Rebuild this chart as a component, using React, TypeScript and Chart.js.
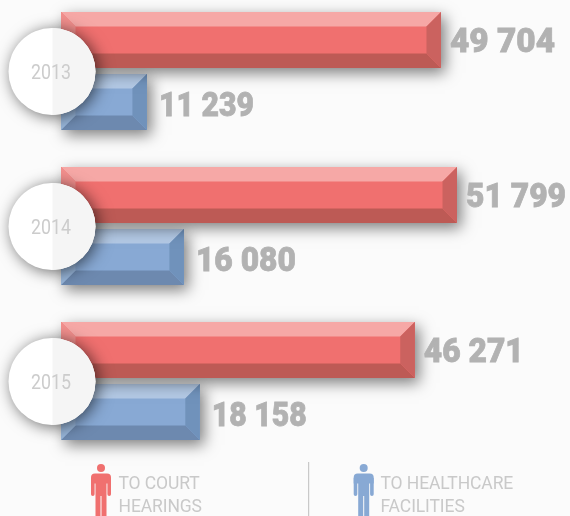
import React, { useEffect, useRef } from "react";
import { Chart, registerables } from "chart.js";

Chart.register(...registerables);

const years = ["2013", "2014", "2015"];
const courtHearings = [49704, 51799, 46271];
const healthcareFacilities = [11239, 16080, 18158];
const legendCourt = ["TO COURT", "HEARINGS"];
const legendHealth = ["TO HEALTHCARE", "FACILITIES"];

const RED = { mid: "#f0706f", top: "#f6a8a6", bottom: "#bd5a55", right: "#cb625f", left: "#f28f8d" };
const BLUE = { mid: "#88a9d4", top: "#b3c9e5", bottom: "#6d89af", right: "#7092bb", left: "#98b6da" };
const BEVEL = 14.5;
const TEXT_GREY = "#b2b2b2";
const LIGHT_GREY = "#c9c9c9";
const CANVAS_SHIFT = 7;

const fmt = (v: number) => {
  const s = String(v);
  return s.slice(0, -3) + " " + s.slice(-3);
};

// The reference's face has a narrow "1"; fit Roboto's tabular digits to that width.
const fitWidth = (t: string) =>
  [...t].reduce((w, ch) => w + (ch === "1" ? 14 : ch === " " ? 10 : 19), 0);

function poly(ctx: CanvasRenderingContext2D, pts: number[][], color: string) {
  ctx.fillStyle = color;
  ctx.beginPath();
  pts.forEach((p, i) => (i ? ctx.lineTo(p[0], p[1]) : ctx.moveTo(p[0], p[1])));
  ctx.closePath();
  ctx.fill();
}

function drawBar(ctx: CanvasRenderingContext2D, el: any, c: typeof RED) {
  const x0 = el.base, x1 = el.x, y0 = el.y - el.height / 2, y1 = el.y + el.height / 2;
  const b = BEVEL;
  ctx.save();
  ctx.shadowColor = "rgba(0,0,0,0.5)";
  ctx.shadowBlur = 14;
  ctx.shadowOffsetX = 4;
  ctx.shadowOffsetY = 5;
  ctx.fillStyle = c.mid;
  ctx.fillRect(x0, y0, x1 - x0, y1 - y0);
  ctx.restore();
  poly(ctx, [[x0, y0], [x1, y0], [x1 - b, y0 + b], [x0 + b, y0 + b]], c.top);
  poly(ctx, [[x0, y1], [x1, y1], [x1 - b, y1 - b], [x0 + b, y1 - b]], c.bottom);
  poly(ctx, [[x1, y0], [x1, y1], [x1 - b, y1 - b], [x1 - b, y0 + b]], c.right);
  poly(ctx, [[x0, y0], [x0, y1], [x0 + b, y1 - b], [x0 + b, y0 + b]], c.left);
}

function drawPerson(ctx: CanvasRenderingContext2D, cx: number, color: string) {
  ctx.fillStyle = color;
  ctx.beginPath();
  ctx.arc(cx, 468, 4, 0, Math.PI * 2);
  ctx.fill();
  ctx.beginPath();
  ctx.roundRect(cx - 10, 473.5, 20, 10, [4, 4, 0, 0]);
  ctx.fill();
  ctx.beginPath();
  ctx.roundRect(cx - 10, 478, 3.6, 18, [0, 0, 1.8, 1.8]);
  ctx.roundRect(cx + 6.4, 478, 3.6, 18, [0, 0, 1.8, 1.8]);
  ctx.fill();
  ctx.fillRect(cx - 5.5, 478, 11, 38);
  ctx.fillStyle = "#fbfbfb";
  ctx.fillRect(cx - 0.5, 496, 1, 20);
}

function drawValue(ctx: CanvasRenderingContext2D, v: number, x: number, y: number) {
  const t = fmt(v);
  const w = fitWidth(t);
  ctx.fillText(t, x, y, w);
  ctx.strokeText(t, x, y, w);
}

const decorPlugin = {
  id: "decor",
  afterDatasetsDraw(chart: any) {
    const ctx: CanvasRenderingContext2D = chart.ctx;
    const red = chart.getDatasetMeta(0).data;
    const blue = chart.getDatasetMeta(1).data;
    years.forEach((_, i) => {
      drawBar(ctx, blue[i], BLUE);
      drawBar(ctx, red[i], RED);
    });
    ctx.save();
    ctx.textAlign = "left";
    ctx.textBaseline = "alphabetic";
    ctx.fillStyle = TEXT_GREY;
    ctx.strokeStyle = TEXT_GREY;
    ctx.lineWidth = 0.8;
    ctx.font = "900 34px Roboto";
    years.forEach((_, i) => {
      drawValue(ctx, courtHearings[i], red[i].x + 9, red[i].y + 12);
      drawValue(ctx, healthcareFacilities[i], blue[i].x + 12, blue[i].y + 14);
    });
    ctx.restore();

    years.forEach((y, i) => {
      const cx = 52;
      const cy = (red[i].y + blue[i].y) / 2 + 0.5;
      const r = 43.5;
      ctx.save();
      ctx.shadowColor = "rgba(0,0,0,0.6)";
      ctx.shadowBlur = 16;
      ctx.shadowOffsetX = 3;
      ctx.shadowOffsetY = 2;
      ctx.fillStyle = "#ffffff";
      ctx.beginPath();
      ctx.arc(cx, cy, r, 0, Math.PI * 2);
      ctx.fill();
      ctx.restore();
      ctx.save();
      ctx.beginPath();
      ctx.arc(cx, cy, r, 0, Math.PI * 2);
      ctx.clip();
      ctx.fillStyle = "#f5f5f5";
      ctx.fillRect(cx + 0.5, cy - r, r, 2 * r);
      ctx.restore();
      ctx.save();
      ctx.fillStyle = "#cccccc";
      ctx.font = "400 21px Roboto";
      ctx.textAlign = "center";
      ctx.textBaseline = "alphabetic";
      ctx.fillText(y, cx - 1, cy + 7.5, 40);
      ctx.restore();
    });

    ctx.save();
    ctx.translate(0, CANVAS_SHIFT);
    drawPerson(ctx, 101, RED.mid);
    drawPerson(ctx, 363.7, BLUE.mid);
    ctx.fillStyle = LIGHT_GREY;
    ctx.fillRect(308, 462, 1.2, 54);
    ctx.font = "400 17.5px Roboto";
    (ctx as any).letterSpacing = "-0.1px";
    ctx.textAlign = "left";
    legendCourt.forEach((t, i) => ctx.fillText(t, 118.5, 489 + i * 23));
    legendHealth.forEach((t, i) => ctx.fillText(t, 380.5, 489 + i * 23));
    ctx.restore();
  },
};

export default function App() {
  const ref = useRef<HTMLCanvasElement>(null);
  useEffect(() => {
    document.body.style.margin = "0";
    document.body.style.background = "#fbfbfb";
    const chart = new Chart(ref.current!, {
      type: "bar",
      data: {
        labels: years,
        datasets: [
          { label: "To court hearings", data: courtHearings, backgroundColor: RED.mid },
          { label: "To healthcare facilities", data: healthcareFacilities, backgroundColor: BLUE.mid },
        ],
      },
      options: {
        indexAxis: "y",
        responsive: false,
        animation: false,
        events: [],
        categoryPercentage: 0.8,
        barPercentage: 0.903,
        layout: { padding: { left: 61, right: 0, top: 0.5, bottom: 64.5 } },
        scales: {
          x: { display: false, min: 0, max: 66580 },
          y: { display: false },
        },
        plugins: { legend: { display: false }, tooltip: { enabled: false } },
      } as any,
      plugins: [decorPlugin],
    });
    return () => chart.destroy();
  }, []);
  return (
    <div style={{ position: "relative", width: 570, height: 516, overflow: "hidden" }}>
      <canvas
        ref={ref}
        width={570}
        height={530}
        style={{ display: "block", position: "absolute", left: 0, top: -CANVAS_SHIFT }}
      />
    </div>
  );
}
